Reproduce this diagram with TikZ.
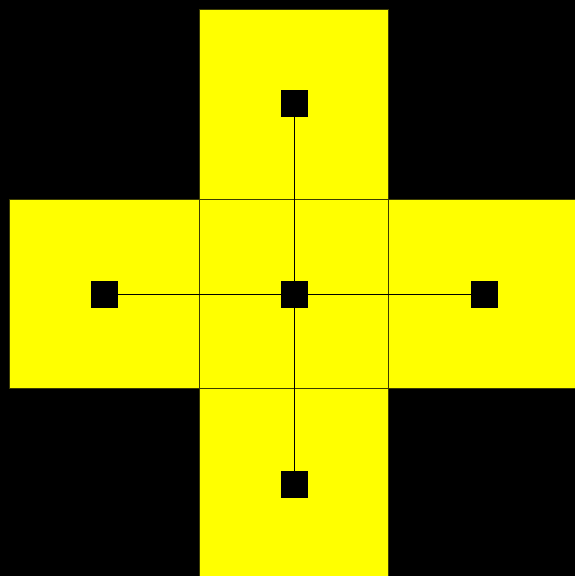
\documentclass[tikz,border=0pt]{standalone}
\definecolor{pureyellow}{RGB}{255,255,0}
\definecolor{edgeclr}{RGB}{60,60,0}
\begin{document}
\begin{tikzpicture}[x=1pt,y=-1pt,
  cell/.style={draw=edgeclr,line width=1pt,fill=pureyellow},
  dot/.style={fill=black,minimum size=27pt,inner sep=0pt,outer sep=0pt,shape=rectangle},
  link/.style={draw=black,line width=1pt}]
\fill[black] (0,0) rectangle (575,576);
\useasboundingbox (0,0) rectangle (575,576);
\begin{scope}
\clip (0,0) rectangle (575,576);
\draw[cell] (199.5,9) rectangle (388.5,199);
\draw[cell] (9,199) rectangle (199.5,388);
\draw[cell] (388.5,199) rectangle (580,388);
\draw[cell] (199.5,388) rectangle (388.5,580);
\draw[cell] (199.5,199) rectangle (388.5,388);
\end{scope}
\node[dot] (t) at (294,103.5) {};
\node[dot] (l) at (104,294) {};
\node[dot] (c) at (294,294) {};
\node[dot] (r) at (484,294) {};
\node[dot] (b) at (294,484) {};
\draw[link] (t) -- (c);
\draw[link] (c) -- (b);
\draw[link] (l) -- (c);
\draw[link] (c) -- (r);
\end{tikzpicture}
\end{document}
